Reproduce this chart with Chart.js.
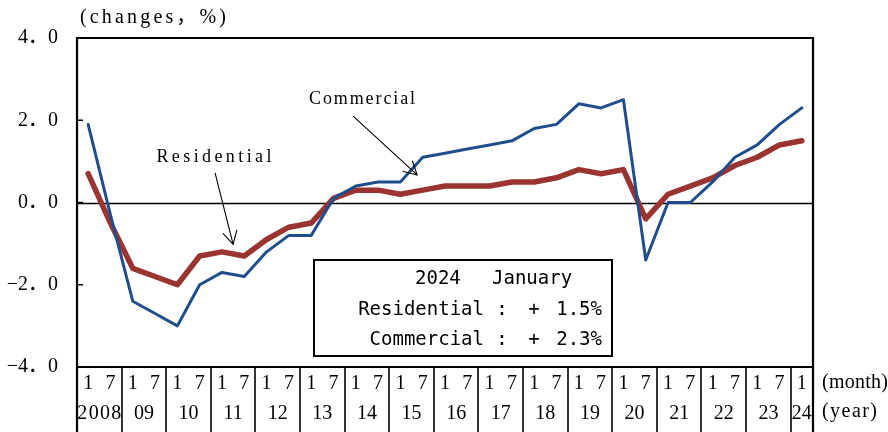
<!DOCTYPE html>
<html>
<head>
<meta charset="utf-8">
<script src="https://cdn.jsdelivr.net/npm/chart.js@4/dist/chart.umd.min.js"></script>
<style>
  html, body { margin: 0; padding: 0; background: #fff; }
</style>
</head>
<body>
<canvas id="priceChart" width="888" height="432"></canvas>
<script>
// half-year land price changes, January / July surveys
const years = ['2008', '09', '10', '11', '12', '13', '14', '15', '16', '17', '18', '19', '20', '21', '22', '23', '24'];
const surveyMonths = ['1', '7'];
const commercial = [1.9, -0.3, -2.4, -2.7, -3.0, -2.0, -1.7, -1.8, -1.2, -0.8, -0.8, 0.1, 0.4, 0.5, 0.5, 1.1,
  1.2, 1.3, 1.4, 1.5, 1.8, 1.9, 2.4, 2.3, 2.5, -1.4, 0.0, 0.0, 0.5, 1.1, 1.4, 1.9, 2.3];
const residential = [0.7, -0.5, -1.6, -1.8, -2.0, -1.3, -1.2, -1.3, -0.9, -0.6, -0.5, 0.1, 0.3, 0.3, 0.2, 0.3,
  0.4, 0.4, 0.4, 0.5, 0.5, 0.6, 0.8, 0.7, 0.8, -0.4, 0.2, 0.4, 0.6, 0.9, 1.1, 1.4, 1.5];
const yTicks = [-4, -2, 0, 2, 4];
const latestTitle = ['2024', 'January'];
const latestRows = [
  ['Residential', '+', '1.5%'],
  ['Commercial', '+', '2.3%']
];

// one label per survey: '1' and '7' for each year, the last year only has January
const periods = [];
years.forEach((y, i) => {
  const ms = i === years.length - 1 ? surveyMonths.slice(0, 1) : surveyMonths;
  ms.forEach((m) => periods.push(m));
});

const SERIF = "'Liberation Serif', 'DejaVu Serif', 'Noto Sans CJK JP', serif";
const MONO = "'DejaVu Sans Mono', 'Liberation Mono', monospace";

// draws text stretched to a given width using letter spacing
function spreadText(ctx, text, x, y, width, align) {
  ctx.letterSpacing = '0px';
  const w = ctx.measureText(text).width;
  const sp = text.length > 1 ? (width - w) / (text.length - 1) : 0;
  ctx.letterSpacing = sp + 'px';
  ctx.textAlign = 'left';
  let start = x;
  if (align === 'center') start = x - width / 2;
  if (align === 'right') start = x - width;
  ctx.fillText(text, start, y);
  ctx.letterSpacing = '0px';
}

function arrow(ctx, x1, y1, x2, y2) {
  const ang = Math.atan2(y2 - y1, x2 - x1);
  const len = 15;
  const spread = 0.5;
  ctx.beginPath();
  ctx.moveTo(x1, y1);
  ctx.lineTo(x2, y2);
  ctx.moveTo(x2 - len * Math.cos(ang - spread), y2 - len * Math.sin(ang - spread));
  ctx.lineTo(x2, y2);
  ctx.lineTo(x2 - len * Math.cos(ang + spread), y2 - len * Math.sin(ang + spread));
  ctx.stroke();
}

const framePlugin = {
  id: 'frame',
  beforeDatasetsDraw(chart) {
    const { ctx, chartArea: a, scales } = chart;
    const y0 = Math.round(scales.y.getPixelForValue(0)) + 0.5;
    ctx.save();
    ctx.strokeStyle = '#000';
    ctx.lineWidth = 1.3;
    ctx.beginPath();
    ctx.moveTo(a.left, y0);
    ctx.lineTo(a.right, y0);
    ctx.stroke();
    ctx.restore();
  },
  afterDatasetsDraw(chart) {
    const { ctx, chartArea: a, scales } = chart;
    const xs = scales.x;
    const ys = scales.y;
    const H = chart.height;
    const slot = (a.right - a.left) / periods.length;
    ctx.save();
    ctx.strokeStyle = '#000';
    ctx.fillStyle = '#000';

    // plot frame, side borders run down through the axis table
    ctx.lineWidth = 2.2;
    ctx.beginPath();
    ctx.moveTo(a.left, H);
    ctx.lineTo(a.left, a.top);
    ctx.lineTo(a.right, a.top);
    ctx.lineTo(a.right, H);
    ctx.moveTo(a.left, a.bottom);
    ctx.lineTo(a.right, a.bottom);
    ctx.stroke();

    // inward tick marks on the value axis
    ctx.lineWidth = 1.5;
    ctx.beginPath();
    yTicks.forEach((v) => {
      const py = ys.getPixelForValue(v);
      ctx.moveTo(a.left, py);
      ctx.lineTo(a.left + 6, py);
    });
    ctx.stroke();

    // year dividers below the plot
    ctx.lineWidth = 1.6;
    ctx.beginPath();
    for (let i = 1; i < years.length; i++) {
      const px = Math.round(xs.getPixelForValue(i * 2) - slot / 2);
      ctx.moveTo(px, a.bottom);
      ctx.lineTo(px, H);
    }
    ctx.stroke();

    // month and year labels
    ctx.font = '20px ' + SERIF;
    ctx.textBaseline = 'middle';
    ctx.textAlign = 'center';
    periods.forEach((m, i) => {
      ctx.fillText(m, xs.getPixelForValue(i), a.bottom + 17);
    });
    years.forEach((y, i) => {
      const first = xs.getPixelForValue(i * 2);
      const last = i * 2 + 1 < periods.length ? xs.getPixelForValue(i * 2 + 1) : first;
      const cx = (first + last) / 2;
      if (y.length > 2) {
        spreadText(ctx, y, cx, a.bottom + 47, 44, 'center');
      } else {
        ctx.textAlign = 'center';
        ctx.fillText(y, cx, a.bottom + 47);
      }
    });
    spreadText(ctx, '(month)', a.right + 9, a.bottom + 16, 66, 'left');
    spreadText(ctx, '(year)', a.right + 9, a.bottom + 45, 55, 'left');

    // unit caption
    spreadText(ctx, '(changes\uFF0C%)', a.left + 3, a.top - 20, 146, 'left');

    // series call-outs
    ctx.font = '18px ' + SERIF;
    const px = (i, v) => [xs.getPixelForValue(i), ys.getPixelForValue(v)];
    let [tx, ty] = px(5.64, 1.1);
    spreadText(ctx, 'Residential', tx, ty, 115, 'center');
    let [sx, sy] = px(5.69, 0.72);
    let [ex, ey] = px(6.5, -1.02);
    ctx.lineWidth = 1.1;
    arrow(ctx, sx, sy, ex, ey);

    [tx, ty] = px(12.28, 2.52);
    spreadText(ctx, 'Commercial', tx, ty, 106, 'center');
    [sx, sy] = px(11.88, 2.1);
    [ex, ey] = px(14.75, 0.67);
    arrow(ctx, sx, sy, ex, ey);

    // latest survey box
    const bl = 314, bt = 260, br = 612, bb = 356;
    ctx.fillStyle = '#fff';
    ctx.fillRect(bl, bt, br - bl, bb - bt);
    ctx.lineWidth = 2;
    ctx.strokeRect(bl, bt, br - bl, bb - bt);
    ctx.fillStyle = '#000';
    ctx.font = '19px ' + MONO;
    ctx.textBaseline = 'middle';
    ctx.textAlign = 'left';
    ctx.fillText(latestTitle[0], 415, 279);
    ctx.fillText(latestTitle[1], 492, 279);
    latestRows.forEach((row, r) => {
      const ry = 310 + r * 30;
      ctx.textAlign = 'right';
      ctx.fillText(row[0], 484, ry);
      ctx.textAlign = 'center';
      ctx.fillText(':', 502, ry);
      ctx.fillText(row[1], 534, ry);
      ctx.textAlign = 'right';
      ctx.fillText(row[2], 602, ry);
    });

    ctx.restore();
  }
};

new Chart(document.getElementById('priceChart'), {
  type: 'line',
  data: {
    labels: periods,
    datasets: [
      {
        label: 'Commercial',
        data: commercial,
        borderColor: '#1f4e8a',
        borderWidth: 3,
        pointRadius: 0,
        tension: 0,
        borderJoinStyle: 'round',
        borderCapStyle: 'round'
      },
      {
        label: 'Residential',
        data: residential,
        borderColor: '#9a3430',
        borderWidth: 5.5,
        pointRadius: 0,
        tension: 0,
        borderJoinStyle: 'round',
        borderCapStyle: 'round'
      }
    ]
  },
  options: {
    responsive: false,
    animation: false,
    layout: { padding: { top: 38, right: 75, left: 0, bottom: 0 } },
    plugins: {
      legend: { display: false },
      tooltip: { enabled: false }
    },
    scales: {
      x: {
        offset: true,
        grid: { display: false },
        border: { display: false },
        ticks: { display: false },
        afterFit(scale) { scale.height = 65; }
      },
      y: {
        min: -4,
        max: 4,
        afterBuildTicks(scale) { scale.ticks = yTicks.map((v) => ({ value: v })); },
        grid: { display: false, drawTicks: false },
        border: { display: false },
        ticks: {
          padding: 19,
          color: '#000',
          font: { family: SERIF, size: 20 },
          // full-width period, as set in the source typeface
          callback: (v) => (v < 0 ? '\u2212' : '') + Math.abs(v).toFixed(1).replace('.', '\uFF0E')
        },
        afterFit(scale) { scale.width = 77; }
      }
    }
  },
  plugins: [framePlugin]
});
</script>
</body>
</html>
